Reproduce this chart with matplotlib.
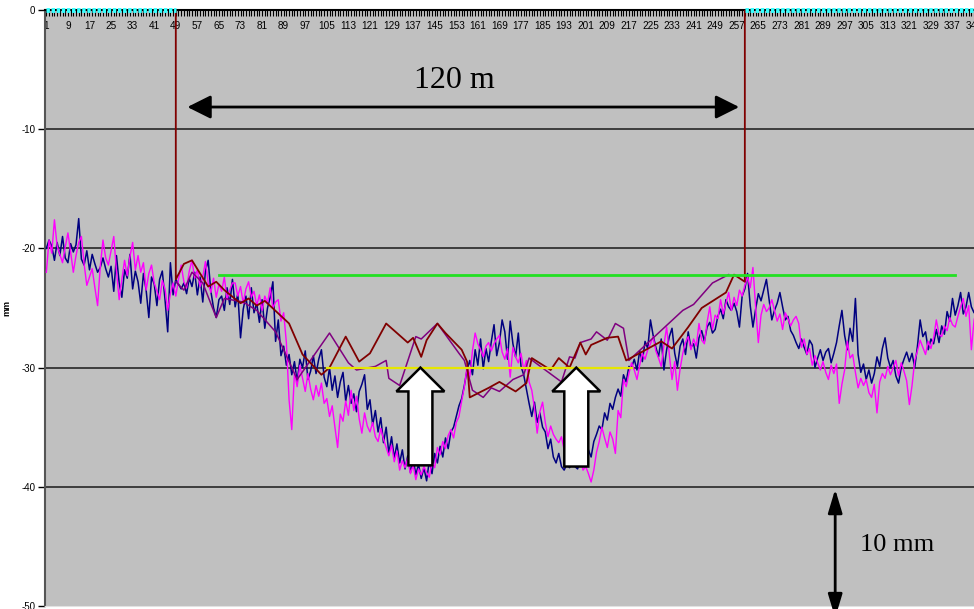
#!/usr/bin/env python3
"""Rail head profile along the survey line: two measured runs, chord offsets and the 120 m section."""
import numpy as np
import matplotlib
matplotlib.use("Agg")
import matplotlib.pyplot as plt
from matplotlib.patches import FancyArrow

# measured vertical profile, one value per survey point (mm)
navy_mm = [
    -20.0, -19.3, -19.8, -21.0, -19.5, -20.6, -19.0, -20.8, -21.2, -19.6,
    -20.3, -19.7, -17.5, -20.9, -21.4, -20.2, -21.8, -20.5, -21.3, -22.0,
    -21.6, -20.8, -21.7, -22.4, -21.5, -23.6, -20.6, -22.9, -24.1, -21.8,
    -22.5, -20.5, -23.4, -21.9, -22.8, -24.6, -22.1, -23.5, -25.8, -22.4,
    -23.0, -24.8, -22.6, -21.9, -24.3, -27.0, -21.2, -23.9, -22.6, -23.0,
    -23.4, -22.9, -23.8, -22.5, -23.2, -22.0, -23.9, -22.4, -24.5, -21.9,
    -21.0, -23.6, -25.0, -25.8, -24.3, -24.0, -25.2, -23.3, -24.7, -22.6,
    -24.9, -23.8, -27.5, -25.1, -24.0, -25.9, -23.3, -25.4, -24.6, -26.2,
    -24.3, -26.7, -25.0, -24.1, -22.8, -27.8, -26.0, -29.0, -28.2, -29.8,
    -28.9, -30.6, -29.5, -31.2, -29.3, -30.0, -28.6, -31.0, -30.3, -29.0,
    -30.5, -29.3, -28.5, -30.8, -31.6, -30.0, -31.9, -30.7, -32.5, -31.2,
    -30.4, -32.8, -31.5, -33.0, -32.2, -33.7, -32.0, -31.4, -30.6, -33.5,
    -32.7, -34.8, -33.6, -35.4, -34.2, -36.3, -35.0, -37.2, -35.8, -37.6,
    -36.4, -38.0, -36.9, -38.5, -37.4, -38.8, -37.6, -39.0, -38.1, -39.3,
    -38.4, -39.5, -37.8, -38.9, -37.2, -38.0, -36.6, -37.5, -35.9, -36.8,
    -35.4, -35.0, -34.1, -33.2, -32.6, -31.5, -30.2, -29.4, -30.6, -28.5,
    -29.8, -27.6, -30.1, -28.4, -29.5, -27.8, -26.4, -29.0, -27.9, -26.0,
    -27.0, -29.3, -26.1, -28.0, -29.1, -27.1, -29.9, -30.6, -31.8, -33.0,
    -34.1, -32.9, -34.6, -33.8, -35.0, -35.4, -36.8, -36.0, -37.5, -38.0,
    -37.2, -38.3, -38.6, -38.1, -38.4, -37.9, -38.3, -38.5, -37.6, -38.2,
    -37.4, -36.9, -37.5, -36.2, -35.6, -34.9, -35.2, -33.8, -34.4, -33.0,
    -33.5, -32.5, -31.8, -32.4, -30.6, -31.2, -29.9, -30.0, -29.3, -30.2,
    -28.6, -29.5, -27.8, -28.4, -26.0, -27.3, -28.3, -29.1, -27.6, -30.2,
    -28.5, -27.4, -26.7, -28.8, -29.9, -28.2, -27.6, -28.9, -27.0, -28.3,
    -28.0, -29.2, -27.5, -26.9, -27.8, -26.6, -26.2, -27.1, -26.8, -25.7,
    -25.1, -25.9, -24.3, -24.9, -25.2, -24.6, -25.3, -26.6, -24.0, -23.4,
    -22.1, -24.8, -26.6, -25.1, -23.8, -24.4, -23.5, -22.6, -24.3, -26.0,
    -25.2, -24.6, -23.7, -24.9, -26.0, -25.7, -26.9, -27.3, -27.9, -28.4,
    -27.6, -28.3, -28.9, -27.7, -28.1, -30.0, -29.2, -28.5, -29.4, -28.7,
    -28.4, -29.6, -28.8, -27.9, -26.5, -25.2, -27.3, -28.5, -26.7, -27.8,
    -24.2, -28.9, -30.4, -29.7, -31.0, -30.2, -31.3, -30.5, -29.1, -29.9,
    -28.4, -27.5, -29.2, -30.0, -29.4, -30.7, -31.3, -30.0, -29.3, -28.7,
    -29.5, -28.8, -30.0, -28.2, -26.0, -27.4, -27.0, -28.5, -27.6, -28.0,
    -26.8, -27.9, -26.5, -27.2, -25.3, -26.1, -24.2, -25.6, -24.8, -23.7,
    -25.5, -24.9, -23.7, -24.9, -25.4, -24.6, -25.8, -24.3, -25.1, -24.7,
    -25.6, -24.9,
]

magenta_mm = [
    -22.0, -19.3, -20.4, -17.6, -19.8, -20.5, -21.2, -19.9, -18.7, -20.3,
    -22.0, -20.6, -19.5, -19.0, -21.3, -23.1, -22.4, -21.7, -23.3, -24.8,
    -21.5, -19.3, -20.8, -21.4, -20.2, -19.0, -21.9, -24.3, -22.6, -21.0,
    -22.3, -20.7, -19.5, -21.8, -20.6, -22.0, -21.2, -23.5, -22.1, -21.4,
    -22.9, -23.6, -24.3, -22.7, -23.4, -25.2, -23.8, -22.9, -24.0, -22.6,
    -21.4, -22.8, -23.3, -21.9, -21.0, -22.5, -21.8, -23.2, -22.4, -21.1,
    -22.9, -23.7, -22.5, -24.1, -23.0, -23.6, -22.4, -24.3, -23.5, -22.9,
    -22.9, -24.0, -23.2, -24.6, -23.4, -22.8, -24.1, -23.6, -24.8, -23.9,
    -25.2, -24.0, -24.6, -23.3, -25.0, -24.5, -24.3, -26.1, -25.4, -27.9,
    -32.7, -35.2, -30.4, -31.6, -29.8, -30.9, -32.0, -30.5, -31.8, -32.7,
    -31.5, -32.4, -31.3, -33.0, -32.6, -34.1, -33.2, -35.0, -36.7, -33.9,
    -34.5, -32.8, -34.0, -31.9, -33.6, -32.4, -34.3, -35.5, -33.8, -34.9,
    -35.4, -34.6, -35.8, -36.2, -35.1, -36.0, -36.7, -37.4, -36.5, -37.9,
    -37.0, -38.6, -37.8, -38.4, -37.6, -38.9, -38.2, -39.4, -38.5, -39.0,
    -38.3, -38.8, -39.2, -37.9, -38.4, -36.7, -37.3, -36.2, -36.8, -35.7,
    -35.2, -35.9, -34.6, -34.1, -32.8, -31.6, -29.9, -30.8, -28.6, -27.1,
    -28.0, -28.5, -29.1, -28.2, -27.9, -28.6, -28.0, -27.6, -27.3, -28.7,
    -29.3, -28.4, -30.8, -28.3, -29.1, -29.6, -28.8, -30.2, -29.4, -31.2,
    -31.9, -33.4, -35.5, -33.7, -32.9, -34.6, -35.8, -34.9, -35.6, -36.0,
    -36.3, -35.8, -36.9, -37.4, -36.8, -37.9, -37.2, -38.1, -37.6, -38.6,
    -38.3, -38.9, -39.6, -38.6, -37.1, -36.2, -35.0, -35.9, -36.7, -35.4,
    -36.0, -37.2, -33.6, -34.2, -31.0, -31.6, -30.5, -29.6, -30.2, -31.0,
    -29.8, -28.8, -29.3, -28.5, -28.0, -27.4, -28.6, -29.2, -29.9, -28.1,
    -26.6, -28.9, -31.0, -29.5, -31.9, -30.1, -28.8, -27.9, -27.4, -28.5,
    -27.6, -28.2, -26.3, -27.7, -28.0, -26.2, -24.9, -26.8, -25.6, -25.9,
    -24.3, -25.5, -24.6, -23.7, -25.2, -24.1, -24.8, -23.5, -24.0, -23.1,
    -22.4, -23.3, -21.6, -24.9, -27.9, -25.6, -24.7, -25.3, -25.0, -24.3,
    -25.2, -26.1, -25.5, -26.8, -25.4, -25.9, -26.5, -26.0, -25.7, -26.3,
    -28.3, -27.6, -28.9, -28.4, -29.8, -29.0, -29.6, -30.2, -29.5, -30.4,
    -31.0, -29.8, -30.5, -29.7, -33.0, -31.4, -30.2, -27.8, -29.2, -28.9,
    -30.4, -31.7, -30.9, -31.5, -31.0, -32.1, -32.5, -31.4, -33.8, -31.2,
    -30.5, -30.9, -29.9, -30.6, -30.0, -29.4, -30.7, -29.6, -30.3, -31.1,
    -33.1, -31.5, -29.4, -28.6, -27.7, -28.3, -28.9, -27.8, -28.4, -27.5,
    -26.0, -27.2, -27.4, -26.5, -26.9, -25.8, -26.4, -26.6, -25.7, -24.9,
    -24.2, -25.7, -24.8, -28.5, -26.0, -25.2, -25.9, -24.6, -25.4, -26.1,
    -25.3, -24.8,
]

# chord offsets over the 120 m section (survey point, mm)
maroon_pos = [49, 49, 52, 55, 61, 64, 67, 73, 76, 79,
              82, 91, 96, 103, 106, 112, 117, 121, 127, 135,
              137, 140, 142, 146, 149, 155, 157, 158, 165, 169,
              175, 179, 181, 188, 191, 195, 199, 201, 203, 209,
              213, 216, 229, 233, 239, 244, 253, 256, 260, 260]
maroon_mm = [0, -22.6, -21.3, -21.0, -23.2, -22.8, -23.5, -24.6, -24.2, -24.8,
             -24.4, -26.3, -28.9, -30.6, -30.0, -27.4, -29.5, -28.8, -26.3, -27.9,
             -27.5, -29.1, -27.7, -26.3, -27.1, -28.5, -29.5, -32.5, -31.7, -31.2,
             -32.0, -31.3, -29.2, -30.2, -29.2, -30.0, -27.9, -28.9, -28.1, -27.5,
             -27.4, -29.4, -27.8, -28.4, -26.6, -25.0, -23.7, -22.2, -22.8, 0]

purple_pos = [49, 52, 55, 59, 64, 67, 74, 79, 86, 90,
              94, 106, 113, 116, 123, 127, 128, 132, 138, 140,
              146, 154, 156, 159, 163, 166, 169, 174, 178, 180,
              192, 195, 197, 199, 203, 205, 209, 212, 215, 217,
              237, 241, 248, 254]
purple_mm = [-22.8, -23.5, -22.0, -22.9, -25.8, -24.2, -24.5, -25.2, -27.0, -29.0,
             -31.0, -27.1, -29.6, -30.2, -29.9, -29.4, -30.9, -31.5, -27.4, -27.6,
             -26.3, -28.8, -29.4, -31.9, -32.5, -31.7, -32.0, -31.0, -30.6, -29.2,
             -31.2, -29.1, -29.2, -27.9, -27.6, -27.0, -27.7, -26.3, -26.7, -29.4,
             -25.2, -24.7, -22.9, -22.2]

# reference levels
zero_left = [1, 49]
zero_right = [260, 352]
green_span = [65, 338]
green_mm = -22.2
yellow_span = [105, 218]
yellow_mm = -30.0

# block arrows pointing at the two dips (centre point, tip mm, base mm)
dip_arrows = [(139.7, -30.0, -38.2), (197.5, -30.0, -38.3)]

y_ticks = [0, -10, -20, -30, -40, -50]
x_major = list(range(1, 353, 8))


def main():
    fig = plt.figure(figsize=(9.74, 6.09), dpi=100)
    ax = fig.add_axes([45 / 974, 3 / 609, 949.3 / 974, 596 / 609])
    ax.set_facecolor("#C0C0C0")
    ax.set_xlim(0.5, 352.5)
    ax.set_ylim(-50, 0)

    for v in y_ticks[1:-1]:
        ax.axhline(v, color="#1a1a1a", lw=1.1, zorder=1)

    pts = np.arange(1, len(navy_mm) + 1)
    ax.plot(pts, navy_mm, color="#000080", lw=1.1, zorder=3)
    pts_m = np.arange(1, len(magenta_mm) + 1)
    ax.plot(pts_m, magenta_mm, color="#FF00FF", lw=1.0, zorder=3)
    ax.plot(purple_pos, purple_mm, color="#800080", lw=1.1, zorder=4)
    ax.plot(maroon_pos, maroon_mm, color="#800000", lw=1.3, zorder=4)

    ax.plot(green_span, [green_mm] * 2, color="#22E022", lw=2.0, zorder=4)
    ax.plot(yellow_span, [yellow_mm] * 2, color="#E6E600", lw=1.6, zorder=4)
    for span in (zero_left, zero_right):
        ax.plot(span, [0, 0], color="#33FFFF", lw=3.5, ls=(0, (0.7, 0.35)),
                zorder=6, clip_on=False, solid_capstyle="butt")

    for xc, tip, base in dip_arrows:
        ax.add_patch(FancyArrow(xc, base, 0, tip - base, width=8.9, head_width=17.8,
                                head_length=2.0, length_includes_head=True,
                                facecolor="white", edgecolor="black", lw=1.8, zorder=7))

    # 120 m span and 10 mm scale bar
    arrow = dict(arrowstyle="<|-|>,head_length=1.1,head_width=0.55", color="black",
                 lw=2, shrinkA=0, shrinkB=0, mutation_scale=13)
    ax.annotate("", xy=(53.3, -8.14), xytext=(257.9, -8.14), arrowprops=arrow, zorder=8)
    ax.text(152.3, -5.9, "120 m", family="Liberation Serif", fontsize=23,
            ha="center", va="center", zorder=8)
    varrow = dict(arrowstyle="<|-|>,head_length=1.1,head_width=0.33", color="black",
                  lw=2, shrinkA=0, shrinkB=0, mutation_scale=13)
    ax.annotate("", xy=(293.5, -40.2), xytext=(293.5, -51.0), arrowprops=varrow,
                annotation_clip=False, zorder=8)
    ax.text(316.5, -44.9, "10 mm", family="Liberation Serif", fontsize=19,
            ha="center", va="center", zorder=8)

    # category axis sits on the zero line at the top, labels hang inside
    ax.xaxis.tick_top()
    ax.set_xticks(x_major)
    ax.set_xticklabels([str(v) for v in x_major])
    ax.set_xticks(np.arange(1, 353), minor=True)
    ax.tick_params(axis="x", which="both", direction="in", length=4, width=0.8,
                   colors="black", bottom=False)
    ax.tick_params(axis="x", which="major", pad=-15, labelsize=7.2)
    for lab in ax.get_xticklabels():
        lab.set_family("Liberation Sans")

    ax.set_yticks(y_ticks)
    ax.set_yticklabels([str(v) for v in y_ticks], family="Liberation Sans", fontsize=7)
    ax.tick_params(axis="y", direction="out", length=5, width=1, pad=2)
    ax.set_ylabel("mm", family="Liberation Sans", fontsize=6.5, fontweight="bold")
    ax.yaxis.set_label_coords(-0.035, 0.5)

    ax.spines["top"].set_color("black")
    ax.spines["top"].set_linewidth(1.5)
    ax.spines["left"].set_color("#555555")
    ax.spines["left"].set_linewidth(1.5)
    ax.spines["bottom"].set_color("#E2E2E2")
    ax.spines["right"].set_visible(False)

    fig.savefig("out.png", dpi=100, facecolor="white")


if __name__ == "__main__":
    main()
